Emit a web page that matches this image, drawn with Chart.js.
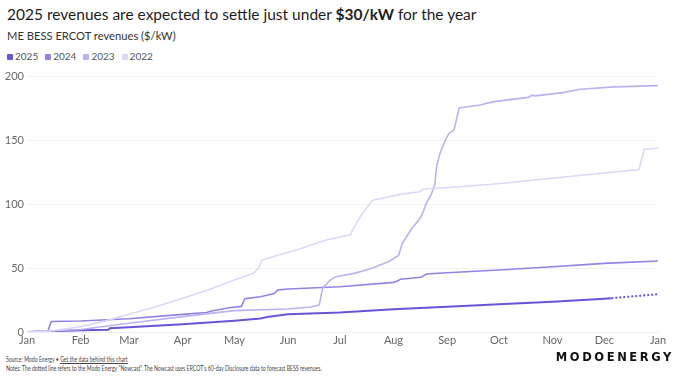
<!DOCTYPE html>
<html>
<head>
<meta charset="utf-8">
<script src="https://cdn.jsdelivr.net/npm/chart.js@4"></script>
<style>
  body { margin: 0; width: 680px; height: 380px; background: #fff; font-family: Lato, "Noto Sans", sans-serif; color: #222; position: relative; overflow: hidden; }
  #title { position: absolute; left: 7px; top: 5px; font-size: 15.5px; color: #1d1d1d; white-space: nowrap; }
  #title b { font-weight: 700; }
  #subtitle { position: absolute; left: 7px; top: 29px; font-size: 11.2px; color: #333; white-space: nowrap; }
  #legend { position: absolute; left: 7px; top: 50px; font-size: 10px; color: #555; display: flex; gap: 7px; }
  #legend span.sw { display: inline-block; width: 6px; height: 6px; border-radius: 1px; margin-right: 2px; vertical-align: 0px; }
  #wrap { position: absolute; left: 0; top: 66px; width: 680px; height: 286px; }
  .foot { position: absolute; left: 6px; font-size: 6.8px; color: #444; white-space: nowrap; transform: scaleX(0.76); transform-origin: left top; }
  #source { top: 355px; }
  #notes { top: 364px; }
  #logo { position: absolute; right: 6px; top: 350px; font-size: 11.5px; font-weight: 700; letter-spacing: 2.6px; color: #111; font-family: "DejaVu Sans", sans-serif; }
</style>
</head>
<body>
<div id="title">2025 revenues are expected to settle just under <b>$30/kW</b> for the year</div>
<div id="subtitle">ME BESS ERCOT revenues ($/kW)</div>
<div id="legend"></div>
<div id="wrap"><canvas id="chart"></canvas></div>
<div id="source" class="foot">Source: Modo Energy • <u>Get the data behind this chart</u></div>
<div id="notes" class="foot">Notes: The dotted line refers to the Modo Energy "Nowcast". The Nowcast uses ERCOT's 60-day Disclosure data to forecast BESS revenues.</div>
<div id="logo">MODOENERGY</div>
<script>
// Month ticks (day of year) and labels
const monthDays = [0, 31, 59, 90, 120, 151, 181, 212, 243, 273, 304, 334, 365];
const monthLabels = ['Jan', 'Feb', 'Mar', 'Apr', 'May', 'Jun', 'Jul', 'Aug', 'Sep', 'Oct', 'Nov', 'Dec', 'Jan'];

// Cumulative revenues ($/kW): [day of year, value]
const days2025 = [0, 15, 31, 47, 48, 59, 90, 120, 135, 140, 151, 181, 212, 243, 273, 304, 334, 338];
const rev2025 = [0, 0.7, 1.3, 1.8, 3.0, 3.8, 6.0, 8.8, 10.5, 12.0, 13.8, 15.3, 17.8, 19.8, 21.6, 23.7, 26.0, 26.4];
const daysNowcast = [338, 365];
const revNowcast = [26.4, 29.5];

const days2024 = [0, 12, 14, 31, 59, 90, 104, 106, 117, 124, 126, 135, 143, 145, 151, 181, 212, 214, 216, 228, 231, 243, 273, 304, 334, 365];
const rev2024 = [0, 0.5, 8.2, 8.6, 10.4, 13.8, 15.2, 16.2, 19.0, 20.0, 26.0, 27.5, 30.0, 32.8, 33.6, 35.4, 38.8, 39.6, 41.2, 42.7, 45.3, 46.3, 48.4, 51.0, 53.6, 55.5];

const days2023 = [0, 31, 59, 90, 120, 151, 164, 169, 171, 175, 178, 190, 200, 210, 215, 217, 222, 228, 231, 234, 236, 237, 239, 242, 244, 247, 250, 262, 270, 290, 292, 294, 310, 320, 340, 365];
const rev2023 = [0, 2.0, 6.8, 12.0, 16.7, 18.0, 19.5, 21.0, 34.0, 40.0, 43.0, 46.0, 50.0, 55.5, 60.0, 69.0, 79.7, 90.0, 100.5, 108.0, 116.0, 130.0, 140.0, 150.0, 155.0, 157.8, 175.0, 177.3, 180.0, 183.3, 185.0, 184.5, 187.0, 189.6, 191.5, 192.5];

const days2022 = [0, 15, 31, 45, 59, 75, 90, 105, 120, 131, 134, 136, 145, 156, 173, 187, 191, 194, 200, 216, 227, 229, 250, 274, 312, 340, 354, 357, 365];
const rev2022 = [0, 1.0, 4.2, 8.5, 13.8, 20.0, 26.3, 33.0, 40.6, 45.8, 50.0, 56.2, 60.0, 64.0, 71.9, 76.0, 86.0, 92.7, 103.0, 107.5, 109.6, 111.5, 113.5, 116.0, 121.3, 125.0, 127.0, 142.7, 143.5];

const yTicks = [0, 50, 100, 150, 200];

const colors = { '2025': '#6a53d6', '2024': '#9282e4', '2023': '#bcb2f0', '2022': '#ddd8f7' };

function pts(xs, ys) {
    return xs.map(function(x, i) { return { x: x, y: ys[i] }; });
}

// HTML legend
const legendEl = document.getElementById('legend');
['2025', '2024', '2023', '2022'].forEach(function(name) {
    const item = document.createElement('div');
    item.innerHTML = '<span class="sw" style="background:' + colors[name] + '"></span>' + name;
    legendEl.appendChild(item);
});

function line(label, data, color, width, dash) {
    return {
        label: label,
        data: data,
        borderColor: color,
        backgroundColor: color,
        borderWidth: width,
        borderDash: dash || [],
        pointRadius: 0,
        tension: 0,
        fill: false
    };
}

new Chart(document.getElementById('chart'), {
    type: 'line',
    data: {
        datasets: [
            line('2022', pts(days2022, rev2022), colors['2022'], 1.6),
            line('2023', pts(days2023, rev2023), colors['2023'], 1.6),
            line('2024', pts(days2024, rev2024), colors['2024'], 1.6),
            line('2025', pts(days2025, rev2025), colors['2025'], 2),
            line('2025 Nowcast', pts(daysNowcast, revNowcast), colors['2025'], 2, [2, 2])
        ]
    },
    options: {
        responsive: true,
        maintainAspectRatio: false,
        animation: false,
        layout: { padding: { top: 10, right: 22, left: 0, bottom: 0 } },
        plugins: {
            legend: { display: false },
            tooltip: { enabled: false }
        },
        scales: {
            x: {
                type: 'linear',
                min: 0,
                max: 365,
                afterBuildTicks: function(scale) {
                    scale.ticks = monthDays.map(function(d) { return { value: d }; });
                },
                afterFit: function(scale) { scale.height = 20; },
                ticks: {
                    autoSkip: false,
                    maxRotation: 0,
                    padding: 2,
                    color: '#666',
                    font: { family: 'Lato', size: 11 },
                    callback: function(value, index) { return monthLabels[index]; }
                },
                grid: { display: false, drawTicks: false },
                border: { display: true, color: '#eeeeee' }
            },
            y: {
                min: 0,
                max: 200,
                afterBuildTicks: function(scale) {
                    scale.ticks = yTicks.map(function(v) { return { value: v }; });
                },
                afterFit: function(scale) { scale.width = 27; },
                ticks: {
                    padding: 3,
                    color: '#666',
                    font: { family: 'Lato', size: 11 }
                },
                grid: { color: '#f3f3f3', drawTicks: false },
                border: { display: false }
            }
        }
    }
});
</script>
</body>
</html>
